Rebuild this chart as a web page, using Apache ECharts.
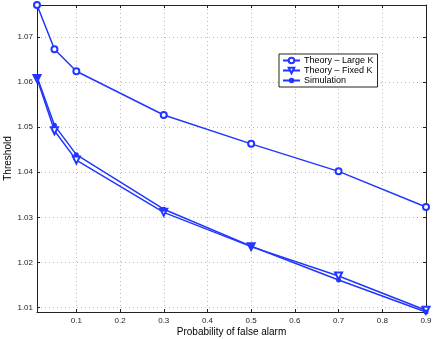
<!DOCTYPE html>
<html>
<head>
<meta charset="utf-8">
<script src="https://cdn.jsdelivr.net/npm/echarts@6/dist/echarts.min.js"></script>
<style>
  html, body { margin: 0; padding: 0; background: #fff; }
  #chart { width: 436px; height: 339px; }
</style>
</head>
<body>
<div id="chart"></div>
<script>
// probability of false alarm
var pfa = [0.01, 0.05, 0.1, 0.3, 0.5, 0.7, 0.9];
var largeK = [1.0771, 1.0673, 1.0624, 1.0527, 1.0463, 1.0402, 1.0323];
var fixedK = [1.0608, 1.0492, 1.0427, 1.0311, 1.0235, 1.0170, 1.0094];
var simulation = [1.0612, 1.0504, 1.0439, 1.0318, 1.0236, 1.0161, 1.0090];
var xTicks = [0.1, 0.2, 0.3, 0.4, 0.5, 0.6, 0.7, 0.8, 0.9];
var yTicks = [1.01, 1.02, 1.03, 1.04, 1.05, 1.06, 1.07];

var blue = '#2236ff';
var font = 'Liberation Sans, Arial, sans-serif';

function pairs(ys) {
  var out = [];
  for (var i = 0; i < pfa.length; i++) out.push([pfa[i], ys[i]]);
  return out;
}

var myChart = echarts.init(document.getElementById('chart'));

var option = {
  animation: false,
  backgroundColor: '#fff',
  textStyle: { fontFamily: font },
  grid: { left: 37, right: 10, top: 5, bottom: 27, show: false, containLabel: false, outerBoundsMode: 'none' },
  legend: {
    orient: 'vertical',
    left: 279, top: 54,
    padding: [2, 4, 2, 3],
    itemGap: 1,
    itemWidth: 17, itemHeight: 7,
    backgroundColor: '#fff',
    borderColor: '#222', borderWidth: 1, borderRadius: 0,
    textStyle: { fontSize: 9, color: '#000', fontFamily: font, padding: [0, 0, 0, -1] },
    data: ['Theory \u2013 Large K', 'Theory \u2013 Fixed K', 'Simulation']
  },
  xAxis: [
    {
      type: 'value', min: 0.01, max: 0.9,
      name: 'Probability of false alarm', nameLocation: 'middle', nameGap: 15, nameMoveOverlap: false,
      nameTextStyle: { fontSize: 10, color: '#000', fontFamily: font },
      axisLine: { show: true, onZero: false, lineStyle: { color: '#222', width: 1 } },
      axisTick: { show: true, inside: true, length: 3, customValues: xTicks, lineStyle: { color: '#222' } },
      axisLabel: { fontSize: 8, color: '#222', margin: 5, customValues: xTicks, formatter: function (v) { return v.toFixed(1); } },
      splitLine: { show: true, lineStyle: { color: '#bbb', type: [1, 3], width: 1 } }
    },
    {
      type: 'value', min: 0.01, max: 0.9, position: 'top',
      axisLine: { show: true, onZero: false, lineStyle: { color: '#222', width: 1 } },
      axisTick: { show: true, inside: true, length: 3, customValues: xTicks, lineStyle: { color: '#222' } },
      axisLabel: { show: false },
      splitLine: { show: false }
    }
  ],
  yAxis: [
    {
      type: 'value', min: 1.009, max: 1.0771,
      name: 'Threshold', nameLocation: 'middle', nameGap: 24, nameRotate: 90, nameMoveOverlap: false,
      nameTextStyle: { fontSize: 10, color: '#000', fontFamily: font },
      axisLine: { show: true, onZero: false, lineStyle: { color: '#222', width: 1 } },
      axisTick: { show: true, inside: true, length: 3, customValues: yTicks, lineStyle: { color: '#222' } },
      axisLabel: { fontSize: 8, color: '#222', margin: 4, customValues: yTicks, formatter: function (v) { return v.toFixed(2); } },
      splitLine: { show: true, lineStyle: { color: '#bbb', type: [1, 3], width: 1 } }
    },
    {
      type: 'value', min: 1.009, max: 1.0771, position: 'right',
      axisLine: { show: true, onZero: false, lineStyle: { color: '#222', width: 1 } },
      axisTick: { show: true, inside: true, length: 3, customValues: yTicks, lineStyle: { color: '#222' } },
      axisLabel: { show: false },
      splitLine: { show: false }
    }
  ],
  series: [
    {
      name: 'Theory \u2013 Large K', type: 'line', data: pairs(largeK),
      symbol: 'emptyCircle', symbolSize: 6,
      lineStyle: { color: blue, width: 1.5 },
      itemStyle: { color: blue, borderColor: blue, borderWidth: 1.3 }
    },
    {
      name: 'Theory \u2013 Fixed K', type: 'line', data: pairs(fixedK),
      symbol: 'emptyTriangle', symbolRotate: 180, symbolSize: 7,
      lineStyle: { color: blue, width: 1.5 },
      itemStyle: { color: blue, borderColor: blue, borderWidth: 1.3 }
    },
    {
      name: 'Simulation', type: 'line', data: pairs(simulation),
      symbol: 'circle', symbolSize: 5,
      lineStyle: { color: blue, width: 1.5 },
      itemStyle: { color: blue }
    }
  ]
};

myChart.setOption(option);
</script>
</body>
</html>
